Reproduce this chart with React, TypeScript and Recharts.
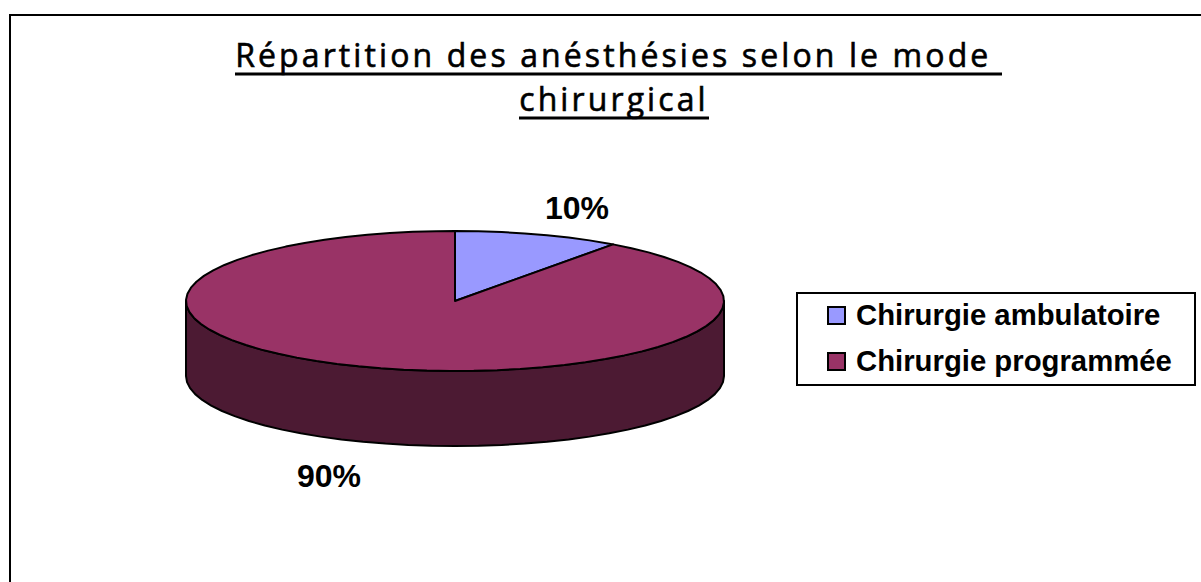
import { Legend, Pie, PieChart, Cell } from "recharts";

const categories = ["Chirurgie ambulatoire", "Chirurgie programmée"];
const shares = [10, 90];
const percentLabels = ["10%", "90%"];
const titleLines = ["Répartition des anésthésies selon le mode ", "chirurgical"];
const topColors = ["#9999ff", "#993366"];
const sideColor = "#4c1a33";

const data = categories.map((name, i) => ({ name, value: shares[i] }));

const WIDTH = 1201;
const HEIGHT = 582;
const CX = 455;
const CY = 301;
const RX = 269;
const RY = 70;
const DEPTH = 75;
const RAD = Math.PI / 180;
const FACET = 5; // the original rim is a coarse polygon, not a smooth ellipse

// recharts only knows round pies, so flatten each sector with a vertical squash
const squash = (angle: number) => {
  const a = angle * RAD;
  return { x: CX + RX * Math.cos(a), y: CY - RY * Math.sin(a) };
};

const rim = (from: number, to: number, dy = 0) => {
  const dir = to > from ? 1 : -1;
  const pts: string[] = [];
  for (let a = from; dir * (to - a) > 0; a += dir * FACET) {
    const p = squash(a);
    pts.push(`${p.x},${p.y + dy}`);
  }
  const end = squash(to);
  pts.push(`${end.x},${end.y + dy}`);
  return pts;
};

function TopSector(props: any) {
  const { startAngle, endAngle, fill } = props;
  const d = `M${CX},${CY} L${rim(startAngle, endAngle).join(" L")} Z`;
  return <path d={d} fill={fill} stroke="#000" strokeWidth={2} strokeLinejoin="round" />;
}

// wall under the front half of the rim, only for the slice that faces the viewer
function SideSector(props: any) {
  const { startAngle, endAngle } = props;
  const lo = Math.min(startAngle, endAngle);
  const hi = Math.max(startAngle, endAngle);
  const from = Math.max(lo, -180);
  const to = Math.min(hi, 0);
  if (to <= from) return null;
  const d = `M${rim(from, to).join(" L")} L${rim(to, from, DEPTH).join(" L")} Z`;
  return <path d={d} fill={sideColor} stroke="#000" strokeWidth={2} strokeLinejoin="round" />;
}

function renderLegend() {
  return (
    <div
      style={{
        width: 400,
        height: 94,
        boxSizing: "border-box",
        border: "2px solid #000",
        background: "#fff",
        padding: "0 0 0 29px",
        fontFamily: "Liberation Sans, Arial, sans-serif",
        fontWeight: 700,
        fontSize: 29.3,
        color: "#000",
      }}
    >
      <div style={{ marginTop: -2 }}>
        {categories.map((name, i) => (
          <div key={name} style={{ display: "flex", alignItems: "center", height: 46, whiteSpace: "nowrap" }}>
            <span
              style={{
                width: 15,
                height: 15,
                marginRight: 10,
                background: topColors[i],
                border: "2px solid #000",
                flex: "none",
              }}
            />
            {name}
          </div>
        ))}
      </div>
    </div>
  );
}

function PercentLabel({ x, y, text }: { x: number; y: number; text: string }) {
  return (
    <text x={x} y={y} textAnchor="middle" fontFamily="Liberation Sans, Arial, sans-serif" fontWeight={700} fontSize={32} fill="#000">
      {text}
    </text>
  );
}

export default function App() {
  return (
    <div style={{ position: "absolute", left: 0, top: 0, width: WIDTH, height: HEIGHT, background: "#fff", overflow: "hidden" }}>
      <PieChart width={WIDTH} height={HEIGHT} margin={{ top: 0, right: 0, bottom: 0, left: 0 }}>
        <path d={`M10,${HEIGHT} L10,15 L${WIDTH},15`} fill="none" stroke="#000" strokeWidth={2} />
        {titleLines.map((line, i) => (
          <text
            key={line}
            x={i === 0 ? 619 : 614}
            y={67 + i * 44}
            textAnchor="middle"
            fontFamily="Open Sans, sans-serif"
            fontSize={32}
            letterSpacing={3.1}
            xmlSpace="preserve"
            stroke="#000"
            strokeWidth={0.6}
            fill="#000"
          >
            {line}
          </text>
        ))}
        <line x1={235} x2={1002} y1={74} y2={74} stroke="#000" strokeWidth={3} />
        <line x1={519} x2={709} y1={118} y2={118} stroke="#000" strokeWidth={3} />
        <Pie
          data={data}
          dataKey="value"
          cx={CX}
          cy={CY}
          outerRadius={RX}
          startAngle={90}
          endAngle={-270}
          stroke="none"
          legendType="none"
          isAnimationActive={false}
          shape={SideSector}
        />
        <Pie
          data={data}
          dataKey="value"
          cx={CX}
          cy={CY}
          outerRadius={RX}
          startAngle={90}
          endAngle={-270}
          isAnimationActive={false}
          shape={TopSector}
        >
          {data.map((d, i) => (
            <Cell key={d.name} fill={topColors[i]} />
          ))}
        </Pie>
        <PercentLabel x={577} y={219} text={percentLabels[0]} />
        <PercentLabel x={329} y={487} text={percentLabels[1]} />
        <Legend content={renderLegend} layout="vertical" align="left" verticalAlign="top" wrapperStyle={{ left: 796, top: 292, width: 400 }} />
      </PieChart>
    </div>
  );
}
